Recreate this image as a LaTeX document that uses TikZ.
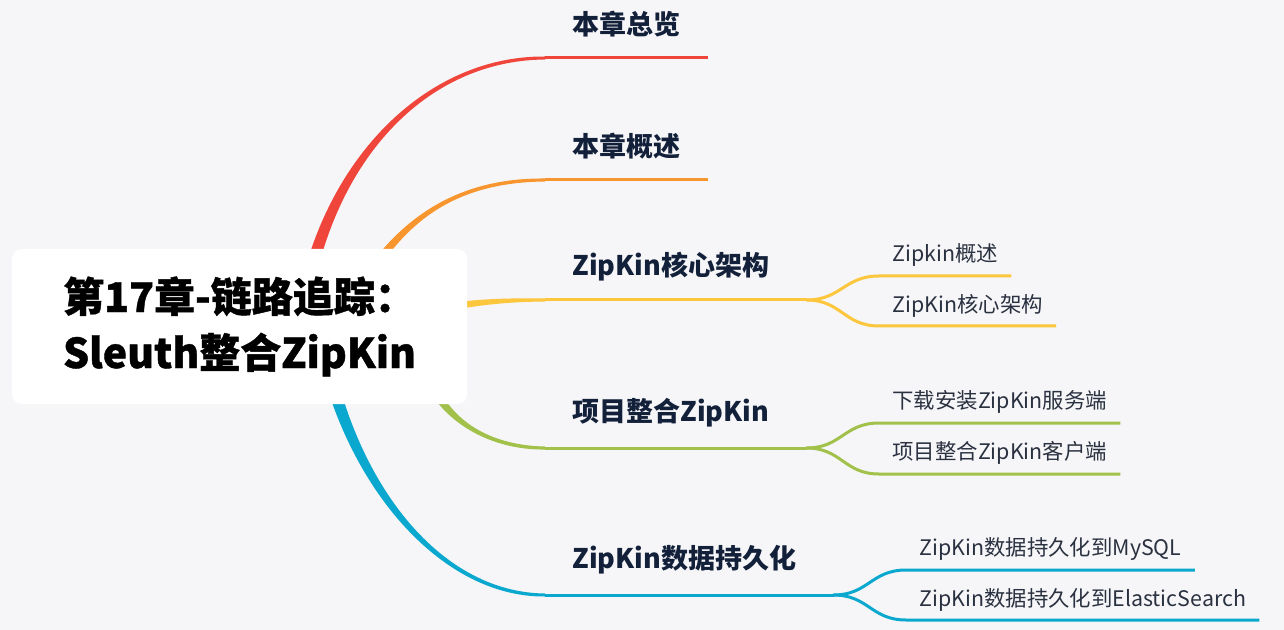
\documentclass[tikz,border=0pt]{standalone}
\usepackage{fontspec}
\setmainfont{Noto Sans CJK SC}
\usetikzlibrary{calc}
\usetikzlibrary{backgrounds}

\definecolor{bg}{HTML}{F6F6F8}
\definecolor{navy}{HTML}{13203A}
\definecolor{ink}{HTML}{2A3140}
\definecolor{cred}{HTML}{F0453A}
\definecolor{corange}{HTML}{F7962F}
\definecolor{cyellow}{HTML}{FCC63D}
\definecolor{cgreen}{HTML}{A1C14A}
\definecolor{cblue}{HTML}{0AA8CE}

\tikzset{
    rootbox/.style={fill=white, rounded corners=5pt, minimum width=227.5pt, minimum height=77.5pt,
        align=center, text=black, font=\fontsize{20.5}{28}\selectfont\bfseries\addfontfeature{FakeBold=1}},
    topic/.style={anchor=west, inner xsep=13.5pt, inner ysep=0pt, text=navy,
        font=\fontsize{13.5}{16}\selectfont\bfseries},
    subtopic/.style={anchor=west, inner xsep=6.5pt, inner ysep=0pt, text=ink,
        font=\fontsize{10.7}{13}\selectfont},
    limb/.style={line width=1.5pt},
}

\begin{document}
\begin{tikzpicture}[x=0.5pt, y=-0.5pt]
    \useasboundingbox (0,0) rectangle (1284,630);

    \node [rootbox] (root) at (239.5,326.5) {第17章-链路追踪：\\Sleuth整合ZipKin};

    % where the main branches leave the root
    \coordinate (S1) at ($(root.center)+(60.5,3.5)$);
    \coordinate (S2) at ($(root.center)+(100.5,3.5)$);
    \coordinate (S3) at ($(root.center)+(160.5,-11.5)$);
    \coordinate (S4) at ($(root.center)+(178.5,13.5)$);
    \coordinate (S5) at ($(root.center)+(80.5,3.5)$);

    \coordinate (P1) at (318,170);
    \coordinate (Q1) at (420,58);
    \coordinate (P2) at (385,225);
    \coordinate (Q2) at (450,180);
    \coordinate (P3) at (470,302);
    \coordinate (Q3) at (500,300);
    \coordinate (P4) at (428,420);
    \coordinate (Q4) at (490,448);
    \coordinate (P5) at (345,480);
    \coordinate (Q5) at (438,595);

    \coordinate (E1) at (545,58);
    \coordinate (E2) at (545,180);
    \coordinate (E3) at (545,300);
    \coordinate (E4) at (545,448);
    \coordinate (E5) at (545,595);

    \node [topic] (overview) at (545,24) {本章总览};
    \node [topic] (summary) at (545,146) {本章概述};
    \node [topic] (core) at (545,267) {ZipKin核心架构};
    \node [topic] (integrate) at (545,413) {项目整合ZipKin};
    \node [topic] (persist) at (545,560) {ZipKin数据持久化};

    \coordinate (fork3) at ($(E3 -| core.east)+(10,0)$);
    \coordinate (fork4) at ($(E4 -| integrate.east)+(10,0)$);
    \coordinate (fork5) at ($(E5 -| persist.east)+(10,0)$);

    \coordinate (F3a) at (879,276);
    \coordinate (F3b) at (879,326);
    \coordinate (F4a) at (879,423);
    \coordinate (F4b) at (879,474);
    \coordinate (F5a) at (906,570);
    \coordinate (F5b) at (906,620);

    \node [subtopic] (coreA) at (879,255) {Zipkin概述};
    \node [subtopic] (coreB) at (879,306) {ZipKin核心架构};
    \node [subtopic] (integrateA) at (879,402) {下载安装ZipKin服务端};
    \node [subtopic] (integrateB) at (879,453) {项目整合ZipKin客户端};
    \node [subtopic] (persistA) at (906,549) {ZipKin数据持久化到MySQL};
    \node [subtopic] (persistB) at (906,600) {ZipKin数据持久化到ElasticSearch};

    \begin{scope}[on background layer]
        \fill[bg] (0,0) rectangle (1284,630);

        \fill[cred] ($(S1)+(-7,0)$) .. controls ($(P1)+(-6,0)$) and ($(Q1)+(0,-2.5)$) .. ($(E1)+(0,-1.5)$)
            -- ($(E1)+(0,1.5)$) .. controls ($(Q1)+(0,2.5)$) and ($(P1)+(6,0)$) .. ($(S1)+(7,0)$) -- cycle;
        \fill[corange] ($(S2)+(-7,0)$) .. controls ($(P2)+(-5,0)$) and ($(Q2)+(0,-2.5)$) .. ($(E2)+(0,-1.5)$)
            -- ($(E2)+(0,1.5)$) .. controls ($(Q2)+(0,2.5)$) and ($(P2)+(5,0)$) .. ($(S2)+(7,0)$) -- cycle;
        \fill[cyellow] ($(S3)+(0,-5)$) .. controls ($(P3)+(0,-3.5)$) and ($(Q3)+(0,-2)$) .. ($(E3)+(0,-1.5)$)
            -- ($(E3)+(0,1.5)$) .. controls ($(Q3)+(0,2)$) and ($(P3)+(0,3.5)$) .. ($(S3)+(0,5)$) -- cycle;
        \fill[cgreen] ($(S4)+(-7,0)$) .. controls ($(P4)+(-5,0)$) and ($(Q4)+(0,2.5)$) .. ($(E4)+(0,1.5)$)
            -- ($(E4)+(0,-1.5)$) .. controls ($(Q4)+(0,-2.5)$) and ($(P4)+(5,0)$) .. ($(S4)+(7,0)$) -- cycle;
        \fill[cblue] ($(S5)+(-7,0)$) .. controls ($(P5)+(-6,0)$) and ($(Q5)+(0,2.5)$) .. ($(E5)+(0,1.5)$)
            -- ($(E5)+(0,-1.5)$) .. controls ($(Q5)+(0,-2.5)$) and ($(P5)+(6,0)$) .. ($(S5)+(7,0)$) -- cycle;
    \end{scope}

    % underlines of the main topics
    \draw[limb, cred] (E1) -- (E1 -| overview.east);
    \draw[limb, corange] (E2) -- (E2 -| summary.east);
    \draw[limb, cyellow] (E3) -- (fork3);
    \draw[limb, cgreen] (E4) -- (fork4);
    \draw[limb, cblue] (E5) -- (fork5);

    % sub topics
    \draw[limb, cyellow] (fork3) .. controls +(35,0) and +(-35,0) .. (F3a) -- (F3a -| coreA.east);
    \draw[limb, cyellow] (fork3) .. controls +(35,0) and +(-35,0) .. (F3b) -- (F3b -| coreB.east);
    \draw[limb, cgreen] (fork4) .. controls +(35,0) and +(-35,0) .. (F4a) -- (F4a -| integrateA.east);
    \draw[limb, cgreen] (fork4) .. controls +(35,0) and +(-35,0) .. (F4b) -- (F4b -| integrateB.east);
    \draw[limb, cblue] (fork5) .. controls +(35,0) and +(-35,0) .. (F5a) -- (F5a -| persistA.east);
    \draw[limb, cblue] (fork5) .. controls +(35,0) and +(-35,0) .. (F5b) -- (F5b -| persistB.east);
\end{tikzpicture}
\end{document}
